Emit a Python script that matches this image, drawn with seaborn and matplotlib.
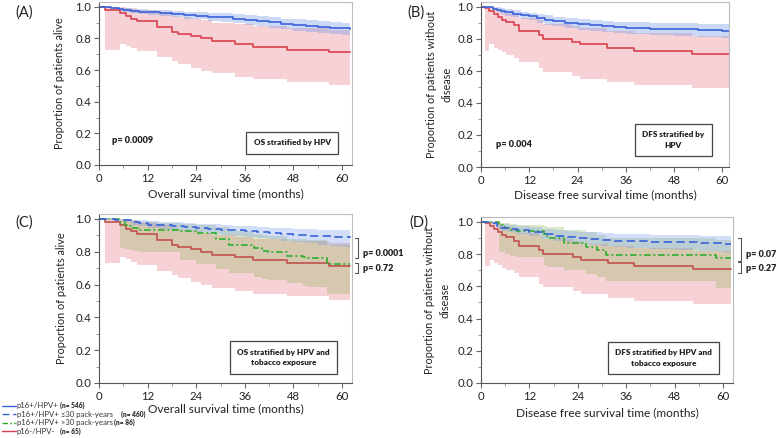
import numpy as np
import pandas as pd
import matplotlib
matplotlib.use("Agg")
import matplotlib.pyplot as plt
from matplotlib.lines import Line2D
from matplotlib.ticker import MultipleLocator
import seaborn as sns

# ---- data (months, survival proportion) ----
# (A) OS, p16+/HPV+ all
os_hpvpos_t = [0, 1, 2, 3, 4, 5, 6, 8, 10, 12, 15, 18, 21, 24, 27, 30, 33, 36, 39, 42, 45, 48, 51, 54, 57, 60, 62]
os_hpvpos_s = [1.0, 1.0, 0.997, 0.993, 0.99, 0.985, 0.98, 0.975, 0.97, 0.965, 0.96, 0.955, 0.95, 0.943, 0.938, 0.933,
               0.925, 0.917, 0.91, 0.903, 0.893, 0.885, 0.88, 0.875, 0.868, 0.864, 0.862]
os_hpvpos_hi = [1.0, 1.0, 1.0, 1.0, 0.998, 0.995, 0.992, 0.989, 0.985, 0.982, 0.978, 0.974, 0.97, 0.966, 0.962, 0.958,
                0.952, 0.946, 0.94, 0.934, 0.926, 0.92, 0.915, 0.91, 0.905, 0.9, 0.897]
os_hpvpos_lo = [1.0, 1.0, 0.99, 0.985, 0.98, 0.972, 0.965, 0.958, 0.952, 0.946, 0.94, 0.933, 0.926, 0.92, 0.913, 0.906,
                0.895, 0.886, 0.878, 0.868, 0.858, 0.85, 0.843, 0.836, 0.827, 0.82, 0.815]

# OS, p16-/HPV-
os_hpvneg_t = [0, 1.6, 5.1, 6.7, 8.0, 9.5, 14.2, 18.1, 19.5, 22.6, 25.1, 27.8, 33.5, 38.0, 46.3, 56.7, 62]
os_hpvneg_s = [1.0, 0.98, 0.962, 0.94, 0.926, 0.91, 0.874, 0.838, 0.83, 0.815, 0.80, 0.782, 0.765, 0.748, 0.73, 0.713, 0.713]
os_hpvneg_lo = [1.0, 0.73, 0.765, 0.755, 0.74, 0.72, 0.685, 0.655, 0.64, 0.615, 0.597, 0.58, 0.558, 0.541, 0.527, 0.505, 0.505]
os_hpvneg_hi = [1.0, 1.0, 0.998, 0.995, 0.99, 0.98, 0.965, 0.945, 0.935, 0.925, 0.915, 0.9, 0.89, 0.88, 0.865, 0.855, 0.855]

# (B) DFS, p16+/HPV+ all
dfs_hpvpos_t = [0, 1, 2, 3, 4, 5, 6, 8, 10, 12, 14, 16, 18, 21, 24, 27, 30, 33, 36, 42, 48, 54, 60, 62]
dfs_hpvpos_s = [1.0, 1.0, 0.995, 0.988, 0.98, 0.972, 0.965, 0.955, 0.947, 0.94, 0.928, 0.918, 0.908, 0.898, 0.89,
                0.884, 0.878, 0.872, 0.866, 0.862, 0.858, 0.854, 0.849, 0.848]
dfs_hpvpos_hi = [1.0, 1.0, 1.0, 1.0, 0.995, 0.99, 0.985, 0.978, 0.97, 0.963, 0.955, 0.946, 0.938, 0.93, 0.922,
                 0.917, 0.912, 0.907, 0.902, 0.899, 0.896, 0.893, 0.889, 0.888]
dfs_hpvpos_lo = [1.0, 1.0, 0.99, 0.978, 0.965, 0.955, 0.945, 0.933, 0.924, 0.915, 0.9, 0.888, 0.877, 0.866, 0.857,
                 0.85, 0.843, 0.836, 0.83, 0.824, 0.818, 0.812, 0.806, 0.805]

# DFS, p16-/HPV-
dfs_hpvneg_t = [0, 1.1, 2.1, 3.2, 4.1, 5.1, 6.2, 8.1, 9.4, 14.4, 15.4, 22.7, 24.7, 31.4, 38, 52.5, 62]
dfs_hpvneg_s = [1.0, 0.99, 0.973, 0.954, 0.937, 0.92, 0.905, 0.884, 0.848, 0.825, 0.80, 0.78, 0.765, 0.745, 0.726, 0.705, 0.705]
dfs_hpvneg_lo = [1.0, 0.725, 0.765, 0.745, 0.73, 0.715, 0.70, 0.68, 0.655, 0.615, 0.595, 0.57, 0.55, 0.53, 0.51, 0.49, 0.49]
dfs_hpvneg_hi = [1.0, 1.0, 0.995, 0.99, 0.985, 0.975, 0.97, 0.955, 0.93, 0.915, 0.895, 0.88, 0.865, 0.85, 0.835, 0.82, 0.82]

# (C) OS, p16+/HPV+ <=30 pack-years
os_low_t = [0, 2, 4, 6, 8, 10, 12, 15, 18, 21, 24, 27, 30, 33, 36, 39, 42, 45, 48, 51, 54, 57, 60, 62]
os_low_s = [1.0, 1.0, 0.995, 0.99, 0.98, 0.972, 0.965, 0.96, 0.955, 0.95, 0.945, 0.94, 0.935, 0.93, 0.925, 0.92,
            0.915, 0.908, 0.903, 0.898, 0.894, 0.89, 0.887, 0.886]
os_low_hi = [1.0, 1.0, 1.0, 1.0, 0.995, 0.99, 0.985, 0.982, 0.978, 0.974, 0.97, 0.966, 0.962, 0.958, 0.955, 0.951,
             0.947, 0.943, 0.94, 0.937, 0.934, 0.932, 0.93, 0.929]
os_low_lo = [1.0, 1.0, 0.99, 0.978, 0.965, 0.955, 0.945, 0.937, 0.93, 0.923, 0.917, 0.91, 0.903, 0.896, 0.89, 0.883,
             0.876, 0.867, 0.858, 0.85, 0.843, 0.835, 0.828, 0.825]

# OS, p16+/HPV+ >30 pack-years
os_high_t = [0, 5.2, 6.5, 7.5, 8.5, 10, 20, 24, 29, 32, 38.3, 40.3, 41.8, 46.3, 50.4, 51.7, 56.2, 62]
os_high_s = [1.0, 0.98, 0.965, 0.955, 0.945, 0.935, 0.925, 0.915, 0.878, 0.838, 0.82, 0.807, 0.80, 0.776, 0.77, 0.763, 0.725, 0.725]
os_high_lo = [1.0, 0.82, 0.815, 0.81, 0.805, 0.80, 0.75, 0.725, 0.695, 0.67, 0.645, 0.635, 0.63, 0.61, 0.59, 0.585, 0.54, 0.54]
os_high_hi = [1.0, 0.995, 0.99, 0.985, 0.98, 0.975, 0.97, 0.965, 0.95, 0.925, 0.91, 0.9, 0.895, 0.88, 0.875, 0.87, 0.84, 0.84]

# (D) DFS, p16+/HPV+ <=30 pack-years
dfs_low_t = [0, 2, 3, 4, 5, 7, 9, 12, 15, 18, 21, 24, 27, 30, 33, 36, 42, 48, 54, 60, 62]
dfs_low_s = [1.0, 1.0, 0.99, 0.975, 0.962, 0.955, 0.948, 0.935, 0.925, 0.913, 0.905, 0.897, 0.892, 0.887, 0.883,
             0.88, 0.876, 0.872, 0.866, 0.86, 0.86]
dfs_low_hi = [1.0, 1.0, 1.0, 0.995, 0.985, 0.98, 0.975, 0.965, 0.958, 0.95, 0.944, 0.938, 0.934, 0.93, 0.927,
              0.924, 0.92, 0.917, 0.913, 0.91, 0.91]
dfs_low_lo = [1.0, 1.0, 0.98, 0.96, 0.945, 0.935, 0.925, 0.91, 0.895, 0.882, 0.872, 0.862, 0.855, 0.848, 0.843,
              0.838, 0.832, 0.826, 0.82, 0.815, 0.813]

# DFS, p16+/HPV+ >30 pack-years
dfs_high_t = [0, 4.4, 6, 7.3, 9, 15.5, 16.3, 20.5, 26, 28.7, 31, 58.2, 62]
dfs_high_s = [1.0, 0.98, 0.96, 0.95, 0.94, 0.925, 0.897, 0.866, 0.845, 0.825, 0.794, 0.773, 0.773]
dfs_high_lo = [1.0, 0.815, 0.80, 0.79, 0.78, 0.735, 0.72, 0.70, 0.675, 0.66, 0.635, 0.59, 0.59]
dfs_high_hi = [1.0, 0.995, 0.99, 0.985, 0.98, 0.975, 0.965, 0.95, 0.935, 0.92, 0.9, 0.885, 0.885]

legend_labels = ["p16+/HPV+", "p16+/HPV+ \u226430 pack-years", "p16+/HPV+ >30 pack-years", "p16-/HPV-"]
legend_n = ["(n= 546)", "(n= 460)", "(n= 86)", "(n= 65)"]

BLUE = "#3a63d8"
RED = "#d8414e"
GREEN = "#2fae2f"
BLUE_FILL, RED_FILL, GREEN_FILL = "#6f96e8", "#e8828f", "#96b964"
DASH = (0, (5, 2.6))
DASHDOT = (0, (4, 1.6, 1.2, 1.6))

sns.set_theme(style="ticks")
plt.rcParams["font.family"] = ["Lato", "DejaVu Sans"]

fig = plt.figure(figsize=(7.78, 4.38), dpi=100)


def km(ax, t, s, lo, hi, color, fill, ls="-", alpha=0.36):
    ax.fill_between(t, lo, hi, step="post", color=fill, alpha=alpha, linewidth=0)
    sns.lineplot(x=t, y=s, ax=ax, color=color, drawstyle="steps-post", linestyle=ls,
                 linewidth=1.2, estimator=None, sort=False)


def style_axes(ax, xmax, ylab, xlab, xlab_y, ylab_x):
    ax.set_xlim(0, xmax)
    ax.set_ylim(0, 1.03)
    ax.set_xticks([0, 12, 24, 36, 48, 60])
    ax.set_yticks([0, 0.2, 0.4, 0.6, 0.8, 1.0])
    ax.set_yticklabels(["0.0", "0.2", "0.4", "0.6", "0.8", "1.0"])
    ax.xaxis.set_minor_locator(MultipleLocator(6))
    ax.yaxis.set_minor_locator(MultipleLocator(0.1))
    ax.tick_params(which="major", length=3.5, width=0.8, color="#666666", labelsize=8.2,
                   labelcolor="#222222", pad=2)
    ax.tick_params(which="minor", length=2, width=0.6, color="#888888")
    for side in ["left", "bottom"]:
        ax.spines[side].set_color("#555555")
        ax.spines[side].set_linewidth(0.8)
    for side in ["top", "right"]:
        ax.spines[side].set_visible(True)
        ax.spines[side].set_color("#bbbbbb")
        ax.spines[side].set_linewidth(0.8)
    ax.set_xlabel(xlab, fontsize=8.6, color="#222222")
    ax.set_ylabel(ylab, fontsize=7.8, color="#222222", linespacing=1.4)
    ax.xaxis.set_label_coords(0.5, xlab_y)
    ax.yaxis.set_label_coords(ylab_x, 0.5)


def box(ax, x, y, txt):
    ax.text(x, y, txt, ha="center", va="center", fontsize=5.9, fontweight="heavy", color="#222222",
            linespacing=1.6, bbox=dict(boxstyle="square,pad=0.9", fc="white", ec="#444444", lw=0.9))


def bracket(ax, x, y0, y1, txt, ty):
    ax.plot([x - 0.8, x, x, x - 0.8], [y0, y0, y1, y1], color="#555555", lw=0.8, clip_on=False)
    ax.text(x + 1.2, ty, txt, ha="left", va="center", fontsize=6.5, fontweight="heavy",
            color="#222222", clip_on=False)


axA = fig.add_axes([0.1272, 0.6233, 0.325, 0.372])
axB = fig.add_axes([0.6183, 0.6187, 0.3188, 0.377])
axC = fig.add_axes([0.1272, 0.1256, 0.325, 0.386])
axD = fig.add_axes([0.6183, 0.1256, 0.324, 0.379])

# (A)
km(axA, os_hpvneg_t, os_hpvneg_s, os_hpvneg_lo, os_hpvneg_hi, RED, RED_FILL)
km(axA, os_hpvpos_t, os_hpvpos_s, os_hpvpos_lo, os_hpvpos_hi, BLUE, BLUE_FILL)
style_axes(axA, 62.4, "Proportion of patients alive", "Overall survival time (months)", -0.141, -0.134)
axA.text(3.2, 0.158, "p= 0.0009", fontsize=6.6, fontweight="heavy", va="center", color="#222222")
box(axA, 47.7, 0.14, "OS stratified by HPV")

# (B)
km(axB, dfs_hpvneg_t, dfs_hpvneg_s, dfs_hpvneg_lo, dfs_hpvneg_hi, RED, RED_FILL)
km(axB, dfs_hpvpos_t, dfs_hpvpos_s, dfs_hpvpos_lo, dfs_hpvpos_hi, BLUE, BLUE_FILL)
style_axes(axB, 61.7, "Proportion of patients without\ndisease", "Disease free survival time (months)", -0.133, -0.117)
axB.text(3.7, 0.14, "p= 0.004", fontsize=6.6, fontweight="heavy", va="center", color="#222222")
box(axB, 47.8, 0.17, "DFS stratified by\nHPV")

# (C)
km(axC, os_hpvneg_t, os_hpvneg_s, os_hpvneg_lo, os_hpvneg_hi, "#c0504d", RED_FILL)
km(axC, os_high_t, os_high_s, os_high_lo, os_high_hi, GREEN, GREEN_FILL, DASHDOT, 0.34)
km(axC, os_low_t, os_low_s, os_low_lo, os_low_hi, BLUE, BLUE_FILL, DASH, 0.3)
style_axes(axC, 62.4, "Proportion of patients alive", "Overall survival time (months)", -0.118, -0.126)
box(axC, 45.5, 0.155, "OS stratified by HPV and\ntobacco exposure")
bracket(axC, 64.0, os_low_s[-1], 0.76, "p= 0.0001", 0.79)
bracket(axC, 64.0, 0.73, 0.67, "p= 0.72", 0.70)

# (D)
km(axD, dfs_hpvneg_t, dfs_hpvneg_s, dfs_hpvneg_lo, dfs_hpvneg_hi, "#c0504d", RED_FILL)
km(axD, dfs_high_t, dfs_high_s, dfs_high_lo, dfs_high_hi, GREEN, GREEN_FILL, DASHDOT, 0.34)
km(axD, dfs_low_t, dfs_low_s, dfs_low_lo, dfs_low_hi, BLUE, BLUE_FILL, DASH, 0.3)
style_axes(axD, 62.5, "Proportion of patients without\ndisease", "Disease free survival time (months)", -0.145, -0.123)
box(axD, 45.2, 0.155, "DFS stratified by HPV and\ntobacco exposure")
bracket(axD, 64.4, 0.90, 0.76, "p= 0.07", 0.80)
bracket(axD, 64.4, 0.75, 0.68, "p= 0.27", 0.71)

# panel letters
for lab, x, y in [("(A)", 0.02, 0.972), ("(B)", 0.524, 0.972), ("(C)", 0.02, 0.493), ("(D)", 0.526, 0.493)]:
    fig.text(x, y, lab, fontsize=10.5, color="#222222", va="center")

# shared legend, bottom-left
leg_colors = [BLUE, BLUE, GREEN, RED]
leg_styles = ["-", DASH, DASHDOT, "-"]
leg_nx = [0.077, 0.156, 0.146, 0.077]
for i, (lab, n) in enumerate(zip(legend_labels, legend_n)):
    yy = 1 - (405.5 + i * 8.6) / 438
    fig.add_artist(Line2D([0.002, 0.02], [yy, yy], color=leg_colors[i], linestyle=leg_styles[i], lw=1.0))
    fig.text(0.0215, yy, lab, fontsize=5.6, color="#333333", va="center")
    fig.text(leg_nx[i], yy, n, fontsize=4.8, fontweight="heavy", color="#333333", va="center")

fig.savefig("out.png", dpi=100)
